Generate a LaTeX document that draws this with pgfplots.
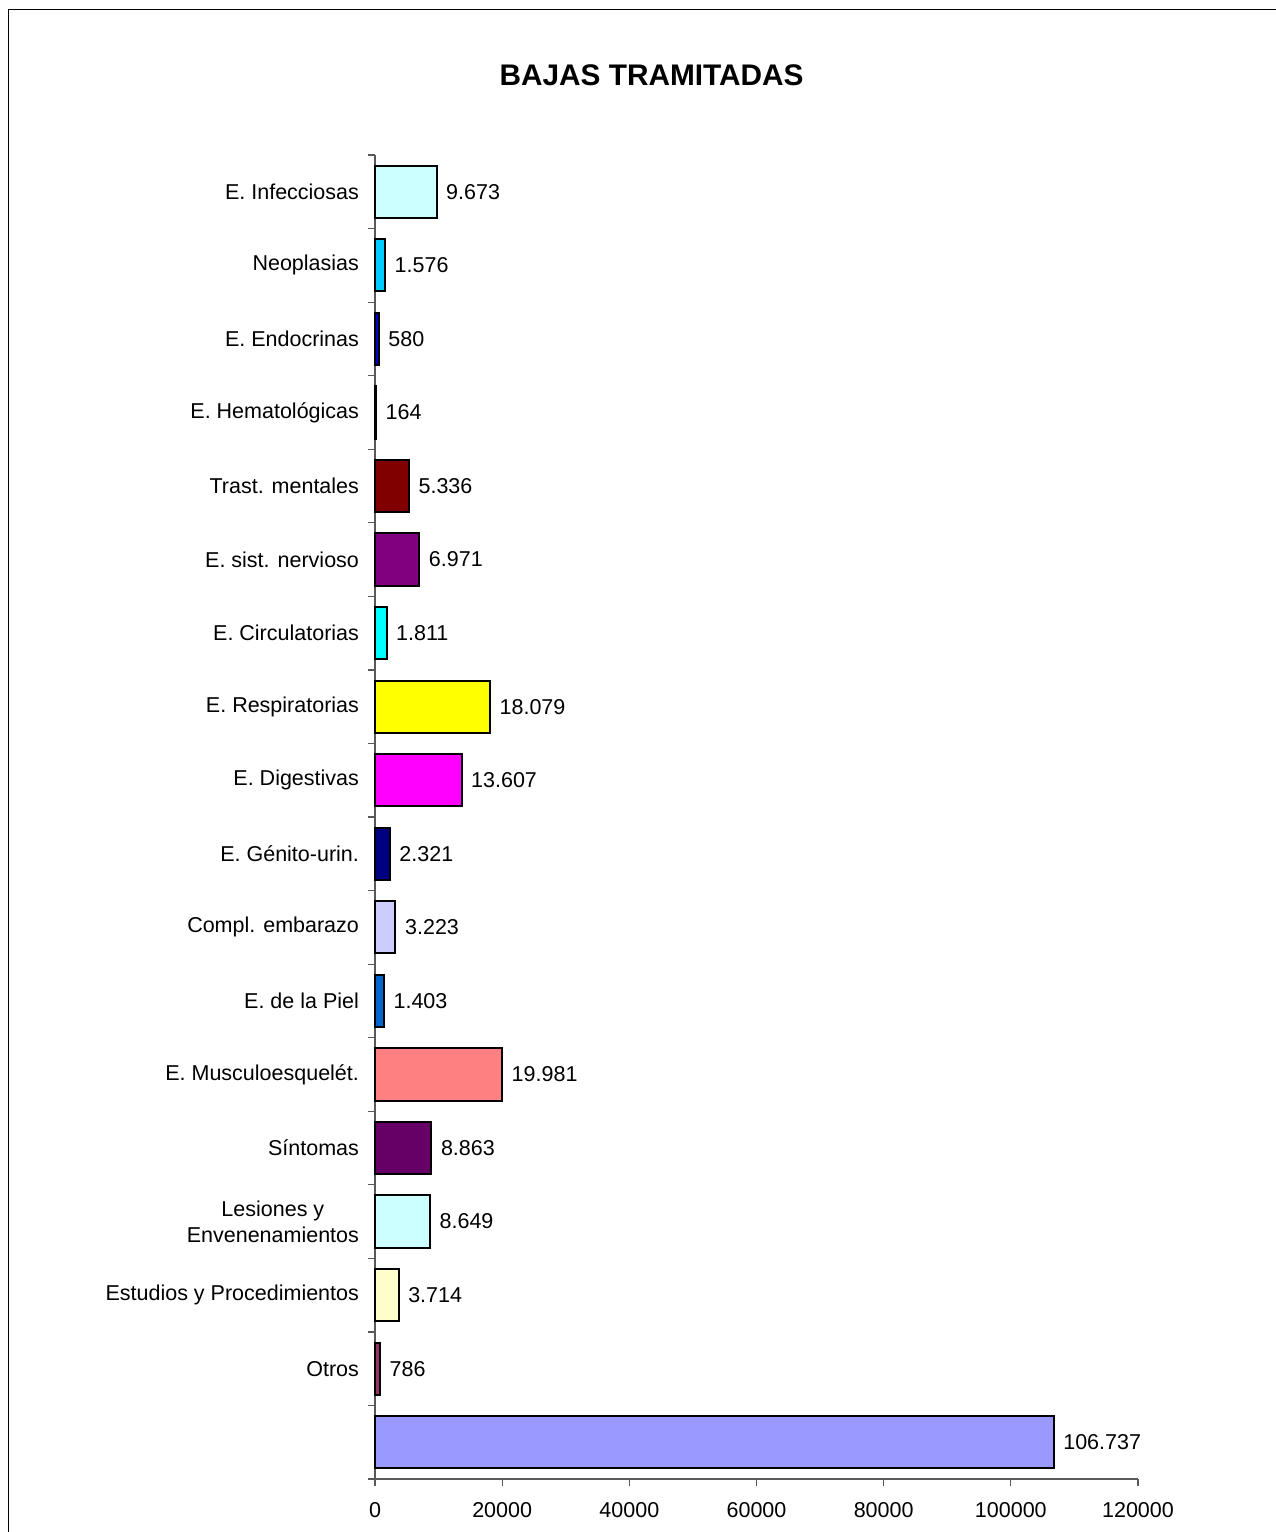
\documentclass[border=0pt]{standalone}
\usepackage{fontspec}
\setmainfont{Liberation Sans}
\usepackage{pgfplots}
\pgfplotsset{compat=1.18}

% Excel-like bar colours, top to bottom
\definecolor{c0}{HTML}{CCFFFF}
\definecolor{c1}{HTML}{00CCFF}
\definecolor{c2}{HTML}{0000CC}
\definecolor{c3}{HTML}{000033}
\definecolor{c4}{HTML}{800000}
\definecolor{c5}{HTML}{800080}
\definecolor{c6}{HTML}{00FFFF}
\definecolor{c7}{HTML}{FFFF00}
\definecolor{c8}{HTML}{FF00FF}
\definecolor{c9}{HTML}{000080}
\definecolor{c10}{HTML}{CCCCFF}
\definecolor{c11}{HTML}{0066CC}
\definecolor{c12}{HTML}{FF8080}
\definecolor{c13}{HTML}{660066}
\definecolor{c14}{HTML}{CCFFFF}
\definecolor{c15}{HTML}{FFFFCC}
\definecolor{c16}{HTML}{993366}
\definecolor{c17}{HTML}{9999FF}

\begin{document}
\begin{tikzpicture}
\useasboundingbox (0,0) rectangle (637.5pt,-766pt);
\draw[line width=0.75pt] (4.25pt,-800pt) -- (4.25pt,-4.75pt) -- (700pt,-4.75pt);
\node[font=\bfseries\fontsize{14.9}{17}\selectfont] at (325.8pt,-37.5pt) {BAJAS TRAMITADAS};
\begin{axis}[
    at={(187.5pt,-739.5pt)}, anchor=south west,
    scale only axis, width=381.5pt, height=662pt,
    xbar, bar shift=0pt, bar width=0.71,
    y dir=reverse,
    xmin=0, xmax=120000,
    ymin=-0.5, ymax=17.5,
    axis x line*=bottom, axis y line*=left,
    axis line style={black!65, line width=0.6pt},
    tick align=outside,
    xtick={0,20000,...,120000},
    scaled x ticks=false,
    xticklabel style={/pgf/number format/fixed, /pgf/number format/1000 sep={}, yshift=-4.5pt},
    major tick length=3.5pt, minor tick length=3.5pt,
    tick style={black!65, line width=0.6pt},
    ytick={0,...,16},
    yticklabels={E. Infecciosas, Neoplasias, E. Endocrinas, E. Hematológicas,
        Trast. mentales, E. sist. nervioso, E. Circulatorias, E. Respiratorias,
        E. Digestivas, E. Génito-urin., Compl. embarazo, E. de la Piel,
        E. Musculoesquelét., Síntomas, {Lesiones y\\Envenenamientos},
        Estudios y Procedimientos, Otros},
    major y tick style={draw=none},
    minor ytick={-0.5,0.5,...,17.5},
    yticklabel style={align=center, xshift=-1pt},
    tick label style={font=\fontsize{10.75}{12.75}\selectfont},
    /pgf/number format/assume math mode=true,
    nodes near coords,
    every node near coord/.append style={font=\fontsize{10.75}{12.75}\selectfont,
        black, /pgf/number format/fixed, /pgf/number format/1000 sep={.}, xshift=1pt},
    every axis plot/.append style={draw=black, line width=1pt},
    clip=false,
]
\addplot[fill=c0] coordinates {(9673,0)};
\addplot[fill=c1] coordinates {(1576,1)};
\addplot[fill=c2] coordinates {(580,2)};
\addplot[fill=c3] coordinates {(164,3)};
\addplot[fill=c4] coordinates {(5336,4)};
\addplot[fill=c5] coordinates {(6971,5)};
\addplot[fill=c6] coordinates {(1811,6)};
\addplot[fill=c7] coordinates {(18079,7)};
\addplot[fill=c8] coordinates {(13607,8)};
\addplot[fill=c9] coordinates {(2321,9)};
\addplot[fill=c10] coordinates {(3223,10)};
\addplot[fill=c11] coordinates {(1403,11)};
\addplot[fill=c12] coordinates {(19981,12)};
\addplot[fill=c13] coordinates {(8863,13)};
\addplot[fill=c14] coordinates {(8649,14)};
\addplot[fill=c15] coordinates {(3714,15)};
\addplot[fill=c16] coordinates {(786,16)};
\addplot[fill=c17] coordinates {(106737,17)};
\end{axis}
\end{tikzpicture}
\end{document}
